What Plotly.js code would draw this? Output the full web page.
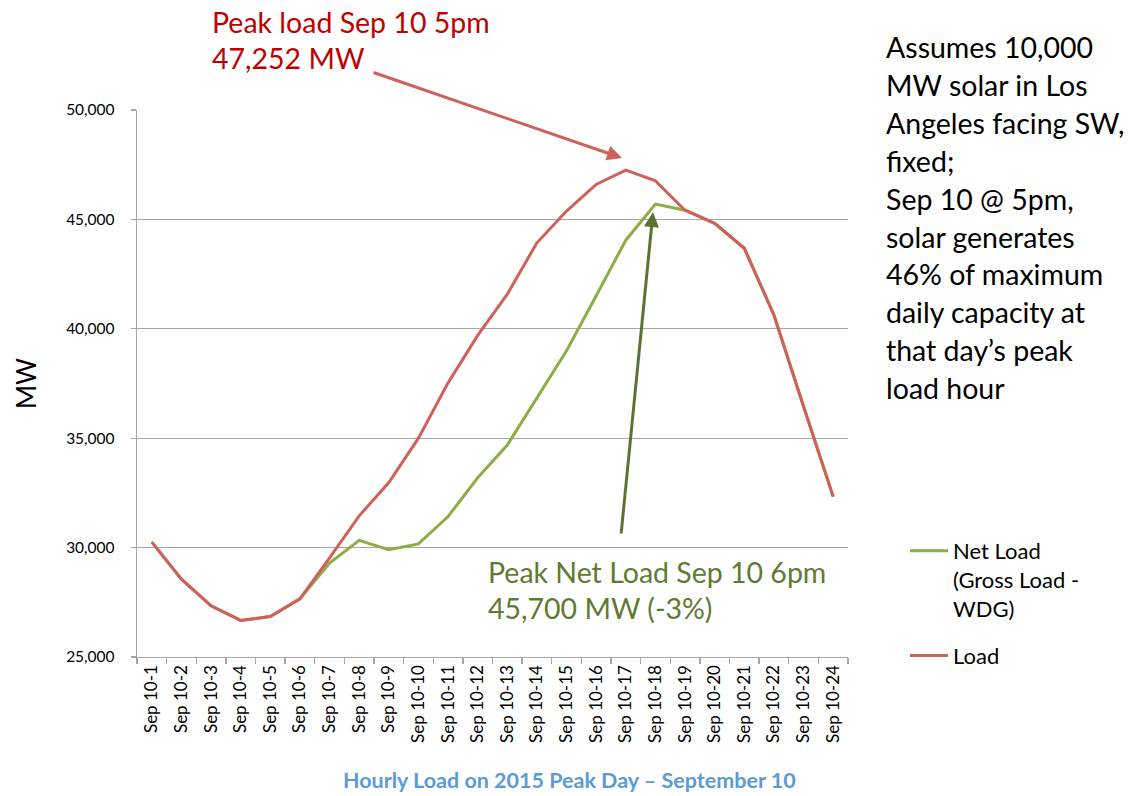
<!DOCTYPE html>
<html>
<head>
<meta charset="utf-8">
<script src="https://cdn.plot.ly/plotly-3.0.1.min.js"></script>
<style>html,body{margin:0;padding:0;background:#fff;}#chart{width:1135px;height:796px;}</style>
</head>
<body>
<div id="chart"></div>
<script>
var categories = ['Sep 10-1','Sep 10-2','Sep 10-3','Sep 10-4','Sep 10-5','Sep 10-6','Sep 10-7','Sep 10-8','Sep 10-9','Sep 10-10','Sep 10-11','Sep 10-12','Sep 10-13','Sep 10-14','Sep 10-15','Sep 10-16','Sep 10-17','Sep 10-18','Sep 10-19','Sep 10-20','Sep 10-21','Sep 10-22','Sep 10-23','Sep 10-24'];
var loadMW = [30250,28560,27340,26670,26850,27660,29530,31450,32970,35000,37530,39700,41580,43930,45380,46600,47252,46760,45420,44820,43680,40630,36430,32330];
var netLoadMW = [30250,28560,27340,26670,26850,27660,29290,30330,29900,30170,31420,33190,34690,36830,39000,41510,44050,45700,45420,44820,43680,40630,36430,32330];
var yTicks = [25000,30000,35000,40000,45000,50000];
var peakLoadText = ['Peak load Sep 10 5pm','47,252 MW'];
var peakNetText = ['Peak Net Load Sep 10 6pm','45,700 MW (-3%)'];
var noteText = ['Assumes 10,000','MW solar in Los','Angeles facing SW,','fixed;','Sep 10 @ 5pm,','solar generates','46% of maximum','daily capacity at','that day\u2019s peak','load hour'];

var FONT = 'Lato, "Open Sans", sans-serif';
var W = 1135, H = 796, L = 137, R = 287, T = 110, B = 139;
var PW = W - L - R, PH = H - T - B;
function px(x){ return (x - L) / PW; }
function py(y){ return (H - B - y) / PH; }

var traces = [
  {x: categories, y: netLoadMW, type: 'scatter', mode: 'lines', name: 'Net Load<br>(Gross Load -<br>WDG)',
   line: {color: '#8EAD47', width: 3}, legendgroup: 'a'},
  {x: categories, y: loadMW, type: 'scatter', mode: 'lines', name: 'Load',
   line: {color: '#D0615A', width: 3}, legendgroup: 'b'}
];

var ann = [];
peakLoadText.forEach(function(t, i){
  ann.push({xref:'paper', yref:'paper', x: px(210), y: py(22 + i*36), xanchor:'left', yanchor:'middle',
    text: t, showarrow:false, font:{family:FONT, size:28.5, color:'#C00000'}});
});
peakNetText.forEach(function(t, i){
  ann.push({xref:'paper', yref:'paper', x: px(486), y: py(572 + i*36), xanchor:'left', yanchor:'middle',
    text: t, showarrow:false, font:{family:FONT, size:28.5, color:'#5F7A33'}});
});
noteText.forEach(function(t, i){
  ann.push({xref:'paper', yref:'paper', x: px(884), y: py(47 + i*37.9), xanchor:'left', yanchor:'middle',
    text: t, showarrow:false, font:{family:FONT, size:28.5, color:'#000000'}});
});
// arrows
ann.push({xref:'paper', yref:'paper', x: px(622), y: py(158), ax: 372-622, ay: 72-158, text:'',
  showarrow:true, arrowcolor:'#D0615A', arrowwidth:3, arrowhead:2, arrowsize:1});
ann.push({xref:'paper', yref:'paper', x: px(653), y: py(212), ax: 621-653, ay: 535-212, text:'',
  showarrow:true, arrowcolor:'#5B7233', arrowwidth:3, arrowhead:2, arrowsize:1});
// x axis title
ann.push({xref:'paper', yref:'paper', x: px(569), y: py(780), xanchor:'center', yanchor:'middle',
  text:'<b>Hourly Load on 2015 Peak Day \u2013 September 10</b>', showarrow:false,
  font:{family:FONT, size:21.5, color:'#5B9BD5'}});

var layout = {
  width: W, height: H,
  margin: {l: L, r: R, t: T, b: B, pad: 0},
  paper_bgcolor: '#ffffff', plot_bgcolor: '#ffffff',
  font: {family: FONT, color: '#000000'},
  showlegend: true,
  legend: {x: px(905), y: py(530), xanchor: 'left', yanchor: 'top', valign: 'top',
    font: {family: FONT, size: 22, color: '#000000'}, tracegroupgap: 16, itemwidth: 38,
    bgcolor: 'rgba(0,0,0,0)'},
  xaxis: {type: 'category', range: [-0.5, 23.5], showgrid: false, showline: true, linecolor: '#A6A6A6', linewidth: 1.3,
    ticks: 'outside', tickson: 'boundaries', ticklen: 6, tickcolor: '#A6A6A6', tickwidth: 1.3,
    tickangle: -90, tickfont: {family: FONT, size: 17, color: '#000000'}, fixedrange: true},
  yaxis: {range: [25000, 50000], tickvals: yTicks, tickformat: ',', showgrid: true, gridcolor: '#A6A6A6', gridwidth: 1.3,
    showline: true, linecolor: '#A6A6A6', linewidth: 1.3, ticks: 'outside', ticklen: 5, tickcolor: '#A6A6A6', tickwidth: 1.3,
    zeroline: false, tickfont: {family: FONT, size: 15.5, color: '#000000'}, ticklabelstandoff: 13,
    title: {text: 'MW', font: {family: FONT, size: 26, color: '#000000'}, standoff: 22}},
  annotations: ann
};

Plotly.newPlot('chart', traces, layout, {staticPlot: true, displayModeBar: false});
</script>
</body>
</html>
